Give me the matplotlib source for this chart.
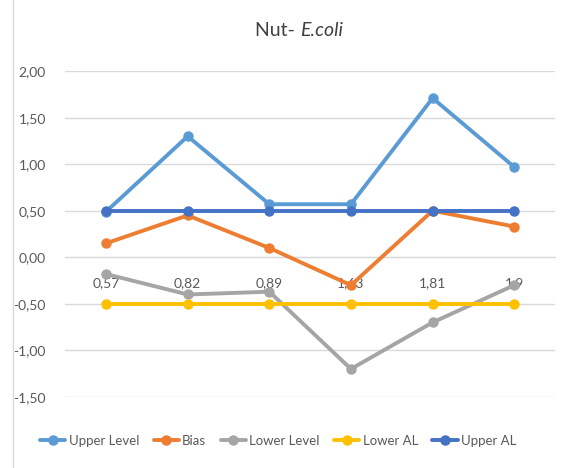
import matplotlib.pyplot as plt
import numpy as np

plt.rcParams['font.family'] = ['Lato', 'DejaVu Sans']

categories = ['0,57', '0,82', '0,89', '1,63', '1,81', '1,9']
upper_level = [0.49, 1.30, 0.57, 0.57, 1.71, 0.97]
bias = [0.15, 0.45, 0.10, -0.30, 0.50, 0.33]
lower_level = [-0.18, -0.40, -0.37, -1.20, -0.70, -0.30]
lower_al = [-0.50, -0.50, -0.50, -0.50, -0.50, -0.50]
upper_al = [0.50, 0.50, 0.50, 0.50, 0.50, 0.50]

series = [
    ('Upper Level', upper_level, '#5B9BD5'),
    ('Bias', bias, '#ED7D31'),
    ('Lower Level', lower_level, '#A5A5A5'),
    ('Lower AL', lower_al, '#FFC000'),
    ('Upper AL', upper_al, '#4472C4'),
]

fig = plt.figure(figsize=(5.77, 4.68), dpi=100)
ax = fig.add_axes([0.113, 0.152, 0.849, 0.696])

x = np.arange(len(categories))
for name, vals, col in series:
    ax.plot(x, vals, color=col, lw=2.8, marker='o', ms=6.5, label=name,
            solid_capstyle='round', zorder=3)

ax.set_ylim(-1.5, 2.0)
ax.set_yticks(np.arange(-1.5, 2.01, 0.5))
ax.set_yticklabels([f'{v:.2f}'.replace('.', ',') for v in np.arange(-1.5, 2.01, 0.5)])
ax.set_xlim(-0.5, 5.5)
ax.set_xticks(x)
ax.set_xticklabels(categories)
ax.grid(axis='y', color='#D9D9D9', lw=1, zorder=0)
for s in ['top', 'right', 'left']:
    ax.spines[s].set_visible(False)
ax.spines['bottom'].set_position(('data', 0))
ax.spines['bottom'].set_color('#D9D9D9')
ax.tick_params(axis='x', length=0, pad=14, labelsize=10, labelcolor='#595959')
ax.tick_params(axis='y', length=0, pad=14, labelsize=10, labelcolor='#595959')

fig.text(0.52, 0.935, 'Nut- ', ha='right', va='center', fontsize=14, color='#404040')
fig.text(0.52, 0.935, 'E.coli', ha='left', va='center', fontsize=14, color='#404040',
         style='italic')

fig.add_artist(plt.Line2D([0.023, 0.023], [0.0, 1.0], color='#D9D9D9', lw=1))

ax.legend(loc='center', bbox_to_anchor=(0.435, -0.135), ncol=5, frameon=False,
          fontsize=9.5, handlelength=1.9, columnspacing=1.1, handletextpad=0.25,
          labelcolor='#595959')

fig.savefig('out.png', dpi=100)
